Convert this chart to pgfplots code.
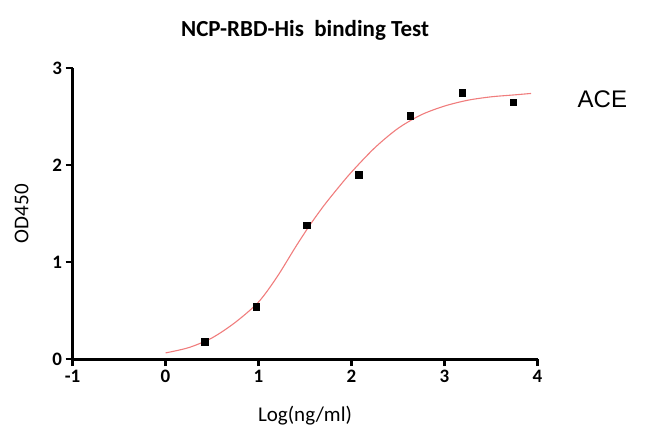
\documentclass[border=0pt]{standalone}
\usepackage{fontspec}
\setmainfont{Carlito}
\newfontfamily\arialfont{Liberation Sans}
\usepackage{pgfplots}
\pgfplotsset{compat=1.18}
\definecolor{fitred}{RGB}{240,125,125}

\begin{document}
\begin{tikzpicture}[x=1pt,y=1pt]
\path[use as bounding box] (0,0) rectangle (650,431);
\begin{axis}[
  at={(78,74)}, anchor=south west,
  scale only axis, width=465pt, height=291pt,
  xmin=-1, xmax=4, ymin=0, ymax=3,
  axis lines*=left,
  axis line style={line width=2.6pt},
  xtick={-1,0,1,2,3,4}, ytick={0,1,2,3},
  tick align=outside, major tick length=7pt,
  tick style={line width=2.2pt, black},
  tick label style={font=\fontsize{19}{19}\selectfont\bfseries},
  /pgf/number format/assume math mode=true,
  title={NCP-RBD-His\ \ binding Test},
  title style={at={([yshift=31.5pt]axis description cs:0.5,1)}, anchor=center,
    font=\fontsize{23}{23}\selectfont\bfseries},
  xlabel={Log(ng/ml)}, ylabel={OD450},
  xlabel style={at={([yshift=-56pt]axis description cs:0.5,0)}, anchor=center,
    font=\fontsize{21}{21}\selectfont},
  ylabel style={at={([xshift=-51pt]axis description cs:0,0.5)}, anchor=center,
    font=\fontsize{21}{21}\selectfont},
  clip=false,
]
% fitted curve
\addplot[smooth, color=fitred, line width=1.1pt] coordinates {
  (0,0.065)(0.25,0.12)(0.5,0.22)(0.75,0.38)(1.0,0.59)(1.2,0.85)
  (1.4,1.16)(1.55,1.38)(1.7,1.58)(1.85,1.76)(2.0,1.93)(2.25,2.18)
  (2.5,2.38)(2.75,2.52)(3.0,2.61)(3.25,2.67)(3.5,2.705)(3.75,2.725)(3.93,2.74)};
% measured points
\addplot[only marks, mark=square*, mark size=3.3pt, color=black] coordinates {
  (0.42,0.18)(0.975,0.54)(1.52,1.38)(2.08,1.90)(2.63,2.51)(3.19,2.75)(3.74,2.65)};
\node[anchor=west, inner sep=0pt, font=\arialfont\fontsize{24}{24}\selectfont]
  at (axis cs:4.43,2.68) {ACE};
\end{axis}
\end{tikzpicture}
\end{document}
